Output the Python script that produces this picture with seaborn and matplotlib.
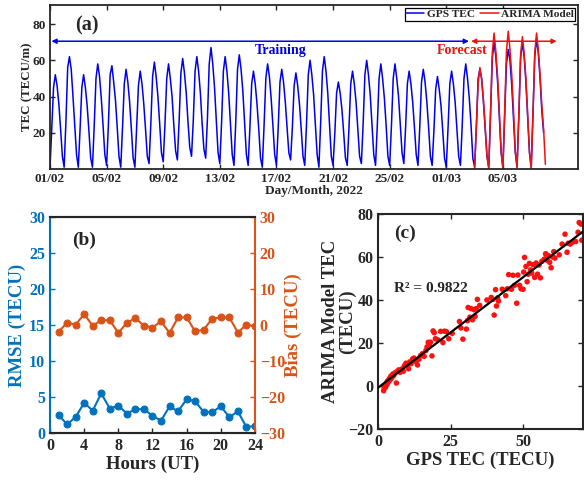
import numpy as np
import pandas as pd
import matplotlib
matplotlib.use("Agg")
import matplotlib.pyplot as plt
import seaborn as sns

# ---------------- data ----------------
# (a) TEC time series, one row per day, samples at these UT hours
sample_hours = [0, 3, 6, 9, 12, 15, 18, 21]
gps_start_day = 0
gps_tec = [
    [0, 22, 45, 52, 46, 36, 22, 7],
    [1, 26, 56, 62, 55, 40, 24, 8],
    [1, 22, 45, 52, 45, 35, 21, 6],
    [1, 24, 50, 58, 51, 39, 24, 8],
    [2, 24, 52, 57, 48, 38, 23, 7],
    [1, 23, 47, 55, 48, 37, 22, 6],
    [1, 23, 46, 54, 47, 36, 22, 7],
    [3, 25, 51, 59, 51, 40, 25, 9],
    [4, 25, 50, 58, 50, 40, 24, 10],
    [5, 27, 53, 61, 53, 42, 26, 12],
    [7, 27, 54, 62, 54, 42, 25, 11],
    [6, 28, 58, 67, 58, 45, 27, 9],
    [3, 26, 54, 62, 54, 42, 25, 8],
    [2, 26, 55, 63, 55, 43, 26, 8],
    [2, 23, 47, 54, 47, 36, 22, 6],
    [1, 24, 50, 58, 51, 39, 24, 8],
    [2, 23, 48, 55, 48, 37, 23, 9],
    [5, 23, 46, 53, 46, 36, 22, 7],
    [2, 25, 52, 60, 52, 41, 25, 8],
    [1, 26, 54, 62, 54, 42, 25, 7],
    [2, 20, 42, 48, 42, 33, 20, 6],
    [2, 23, 47, 54, 47, 37, 22, 7],
    [3, 25, 52, 60, 52, 41, 25, 8],
    [2, 24, 50, 58, 50, 39, 24, 7],
    [2, 24, 50, 58, 50, 40, 24, 9],
    [3, 23, 47, 54, 47, 37, 23, 8],
    [2, 23, 48, 55, 48, 37, 23, 7],
    [2, 21, 44, 51, 44, 35, 21, 6],
    [1, 23, 47, 54, 47, 37, 22, 7],
    [2, 24, 50, 58, 50, 39, 24, 6],
    [1, 23, 50, 55, 50, 37, 22, 7],
    [1, 30, 61, 70, 62, 48, 29, 9],
    [1, 29, 58, 66, 60, 46, 28, 9],
    [1, 29, 61, 70, 62, 48, 29, 9],
    [1, 30, 62, 72, 64, 50, 32, 20],
]
arima_start_day = 30
arima_tec = [
    [0, 24, 47, 56, 49, 38, 23, 7],
    [0, 31, 64, 75, 65, 51, 31, 10],
    [0, 32, 65, 76, 66, 52, 32, 10],
    [1, 30, 63, 73, 64, 50, 30, 10],
    [0, 31, 64, 75, 66, 52, 35, 22],
    [2.6],
]
day_ticks = [0, 4, 8, 12, 16, 20, 24, 28, 32]
day_labels = ["01/02", "05/02", "09/02", "13/02", "17/02",
              "21/02", "25/02", "01/03", "05/03"]

# (b) hourly error statistics
hours_ut = list(range(1, 25))
rmse = [2.5, 1.2, 2.2, 4.2, 3.1, 5.5, 3.4, 3.8, 2.7, 3.3, 3.3, 2.4,
        1.7, 3.7, 3.0, 4.7, 4.4, 2.9, 2.9, 3.7, 2.2, 3.0, 0.8, 1.0]
bias = [-1.9, 0.6, 0.1, 3.0, -0.2, 1.3, 1.3, -2.2, 0.6, 1.9, -0.2, -0.7,
        1.0, -2.2, 2.1, 2.1, -1.8, -1.3, 1.8, 2.1, 2.1, -2.1, 0.1, -0.4]

# (c) GPS TEC vs ARIMA model TEC
gps_obs = [1.8, 2.0, 2.2, 2.5, 2.8, 3.0, 3.2, 3.5, 3.8, 4.0, 4.3, 4.6, 5.0, 5.3,
           5.8, 6.2, 6.5, 7.0, 7.5, 8.2, 8.6, 9.0, 9.5, 10.0, 10.4, 10.8, 11.3,
           11.8, 12.3, 13.0, 13.5, 14.0, 14.6, 15.2, 15.8, 16.4, 16.8, 17.2,
           17.6, 18.0, 18.5, 18.9, 19.3, 19.7, 20.5, 21.5, 22.3, 22.8, 23.5,
           24.3, 25.5, 28.0, 28.5, 29.2, 30.4, 30.8, 31.0, 31.6, 32.0, 32.5,
           33.0, 33.4, 33.8, 34.2, 35.0, 37.5, 39.0, 39.6, 40.0, 40.5, 40.8,
           41.2, 41.5, 42.8, 44.0, 44.5, 45.0, 46.0, 46.5, 47.0, 47.8, 48.2,
           48.8, 49.3, 50.0, 50.2, 50.5, 51.0, 51.4, 51.8, 52.2, 52.6, 53.0,
           53.5, 54.0, 54.5, 55.0, 55.5, 56.0, 56.5, 57.3, 57.8, 58.0, 58.3,
           58.8, 59.2, 59.7, 60.2, 60.6, 61.0, 62.5, 63.5, 64.5, 65.2, 65.6,
           66.3, 67.0, 68.2, 69.0, 69.4, 70.0, 70.3]
arima_obs = [-2.2, -1.0, 0.3, -0.5, 1.5, 0.8, 2.4, 2.0, 3.5, 2.8, 4.6, 3.8,
             5.6, 4.9, 6.2, 1.4, 6.8, 7.5, 6.4, 8.0, 6.9, 9.5, 10.6, 9.2, 8.0,
             11.2, 10.4, 12.6, 13.0, 11.3, 9.8, 12.5, 14.2, 15.0, 13.8, 16.5,
             18.2, 20.3, 19.0, 20.4, 14.0, 25.6, 24.8, 22.0, 21.5, 25.4, 20.2,
             25.5, 25.3, 22.0, 24.5, 30.0, 27.0, 21.8, 26.5, 30.4, 36.5, 32.0,
             36.0, 30.8, 35.5, 32.4, 36.0, 40.3, 37.5, 40.0, 41.2, 40.3, 33.0,
             44.8, 37.2, 41.0, 39.5, 45.0, 42.0, 45.2, 51.8, 45.0, 51.5, 46.8,
             38.5, 51.6, 46.8, 45.2, 45.0, 53.0, 59.8, 55.6, 48.5, 52.0, 57.0,
             54.0, 52.5, 56.4, 50.5, 57.2, 52.0, 56.3, 50.3, 58.0, 59.0, 61.5,
             61.2, 58.5, 60.6, 57.5, 55.0, 60.0, 62.5, 59.5, 61.0, 66.0, 70.6,
             62.2, 66.4, 66.0, 66.8, 67.2, 71.5, 76.0, 75.3, 67.8]
r_squared_text = "R\u00b2 = 0.9822"


def to_frame(rows, start_day):
    t, v = [], []
    for i, row in enumerate(rows):
        for h, val in zip(sample_hours, row):
            t.append(start_day + i + h / 24.0)
            v.append(val)
    return pd.DataFrame({"day": t, "tec": v})


gps_df = to_frame(gps_tec, gps_start_day)
arima_df = to_frame(arima_tec, arima_start_day)
err_df = pd.DataFrame({"hour": hours_ut, "rmse": rmse, "bias": bias})
sc_df = pd.DataFrame({"gps": gps_obs, "arima": arima_obs})

# ---------------- style ----------------
sns.set_style("ticks")
plt.rcParams.update({
    "font.family": ["Liberation Serif", "DejaVu Serif"],
    "font.weight": "bold",
    "axes.labelweight": "bold",
    "axes.linewidth": 1.3,
    "axes.edgecolor": "#262626",
    "xtick.direction": "in",
    "ytick.direction": "in",
    "xtick.major.width": 1.0,
    "ytick.major.width": 1.0,
})

BLUE = "#0000ee"
RED = "#ee1111"
MBLUE = "#0072BD"
MORANGE = "#D95319"

fig = plt.figure(figsize=(5.84, 4.84), dpi=100)

# ---------------- (a) ----------------
ax_a = fig.add_axes([0.0856, 0.6508, 0.904, 0.3389])
sns.lineplot(data=gps_df, x="day", y="tec", ax=ax_a, color=BLUE, lw=1.1,
             estimator=None, sort=False, label="GPS TEC")
sns.lineplot(data=arima_df, x="day", y="tec", ax=ax_a, color=RED, lw=1.1,
             estimator=None, sort=False, label="ARIMA Model")
ax_a.set_xlim(0, 37.3)
ax_a.set_ylim(0, 90.5)
ax_a.set_yticks([20, 40, 60, 80])
ax_a.set_xticks(day_ticks)
ax_a.set_xticklabels(day_labels)
ax_a.tick_params(top=True, right=True, labelsize=9.5, length=3.5, pad=3)
ax_a.set_xlabel("Day/Month, 2022", fontsize=9.5, labelpad=0)
ax_a.set_ylabel("TEC (TECU/m)", fontsize=9.3)
ax_a.yaxis.set_label_coords(-0.031, 0.5)
ax_a.text(1.8, 79, "(a)", fontsize=14.5, fontweight="bold", va="center")
ax_a.annotate("", xy=(0.1, 70.5), xytext=(29.6, 70.5),
              arrowprops=dict(arrowstyle="<|-|>", color=BLUE, lw=1.1,
                              mutation_scale=7, shrinkA=0, shrinkB=0))
ax_a.annotate("", xy=(29.75, 70.5), xytext=(35.8, 70.5),
              arrowprops=dict(arrowstyle="<|-|>", color=RED, lw=1.1,
                              mutation_scale=7, shrinkA=0, shrinkB=0))
ax_a.text(16.3, 65.5, "Training", color=BLUE, fontsize=10, ha="center",
          va="center", fontweight="bold")
ax_a.text(29.1, 65.5, "Forecast", color=RED, fontsize=10, ha="center",
          va="center", fontweight="bold")
leg = ax_a.legend(loc="upper right", ncol=2, fontsize=8.2, frameon=True,
                  fancybox=False, edgecolor="black", framealpha=1,
                  handlelength=1.6, handletextpad=0.2, columnspacing=0.5,
                  borderpad=0.12, borderaxespad=0.25)
leg.get_frame().set_linewidth(0.9)

# ---------------- (b) ----------------
ax_b = fig.add_axes([0.0856, 0.1054, 0.351, 0.4463])
sns.lineplot(data=err_df, x="hour", y="rmse", ax=ax_b, color=MBLUE, lw=1.5,
             marker="o", markersize=5, markeredgecolor=MBLUE)
ax_b.set_xlim(0, 24)
ax_b.set_ylim(0, 30)
ax_b.set_xticks(range(0, 25, 4))
ax_b.set_yticks(range(0, 31, 5))
ax_b.set_xlabel("Hours (UT)", fontsize=13.5, labelpad=1)
ax_b.set_ylabel("RMSE (TECU)", fontsize=13.5, color=MBLUE, labelpad=2)
ax_b.tick_params(axis="y", colors=MBLUE, labelsize=11.5, length=3.5)
ax_b.tick_params(axis="x", labelsize=11.5, length=3.5)
ax_b.text(2.6, 26.7, "(b)", fontsize=14, fontweight="bold", va="center")

ax_b2 = ax_b.twinx()
sns.lineplot(data=err_df, x="hour", y="bias", ax=ax_b2, color=MORANGE, lw=1.5,
             marker="o", markersize=5, markeredgecolor=MORANGE)
ax_b2.set_ylim(-30, 30)
ax_b2.set_yticks(range(-30, 31, 10))
ax_b2.set_ylabel("Bias (TECU)", fontsize=13.5, color=MORANGE, labelpad=0)
ax_b2.tick_params(axis="y", colors=MORANGE, labelsize=11.5, length=3.5,
                  direction="in")
ax_b.spines["right"].set_visible(False)
ax_b2.spines["left"].set_visible(False)
ax_b.spines["left"].set_color(MBLUE)
ax_b2.spines["right"].set_color(MORANGE)
for side in ("left", "right", "top", "bottom"):
    ax_b.spines[side].set_linewidth(1.5)
    ax_b2.spines[side].set_linewidth(1.5)

# ---------------- (c) ----------------
ax_c = fig.add_axes([0.648, 0.1136, 0.3497, 0.4443])
ax_c.set_xlim(0, 70.6)
sns.scatterplot(data=sc_df, x="gps", y="arima", ax=ax_c, color="#ff1010",
                s=16, edgecolor="none", zorder=2)
sns.regplot(data=sc_df, x="gps", y="arima", ax=ax_c, scatter=False, ci=None,
            truncate=False, color="black", line_kws={"lw": 1.6, "zorder": 3})
ax_c.set_xlim(0, 70.6)
ax_c.set_ylim(-20, 80)
ax_c.set_xticks([0, 25, 50])
ax_c.set_yticks(range(-20, 81, 20))
ax_c.tick_params(top=True, right=True, labelsize=11.5, length=3.5)
ax_c.set_xlabel("GPS TEC (TECU)", fontsize=13.5, labelpad=1)
ax_c.set_ylabel("ARIMA Model TEC\n(TECU)", fontsize=13.5, linespacing=1.0)
ax_c.yaxis.set_label_coords(-0.11, 0.5)
ax_c.text(5.5, 71, "(c)", fontsize=14, fontweight="bold", va="center")
ax_c.text(5.5, 45.5, r_squared_text, fontsize=11, fontweight="bold",
          va="center")
for side in ("left", "right", "top", "bottom"):
    ax_c.spines[side].set_linewidth(1.5)

fig.savefig("out.png", dpi=100)
